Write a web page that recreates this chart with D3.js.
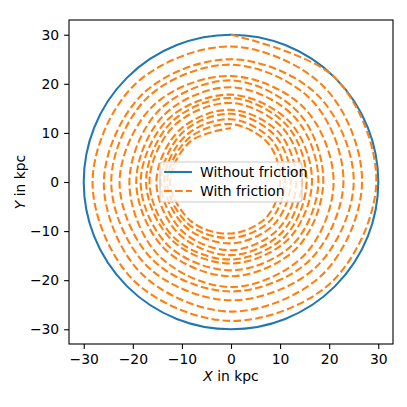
<!DOCTYPE html>
<html>
<head>
<meta charset="utf-8">
<script src="https://cdn.jsdelivr.net/npm/d3@7"></script>
<style>
  body { margin: 0; background: #fff; }
  text { font-family: "DejaVu Sans", sans-serif; }
</style>
</head>
<body>
<div id="my_dataviz"></div>
<script>
// orbit without friction: constant radius (kpc)
var circleRadius = 30;

// octant angles, degrees clockwise from +Y (start of each turn at top)
var octantAngles = [0, 45, 90, 135, 180, 225, 270, 315];

// orbit with friction: radius (kpc) at each octant, one row per turn
var frictionRadii = [
    [30.0, 30.0, 29.6, 28.9, 28.3, 28.2, 28.2, 27.9],
    [27.6, 27.1, 26.7, 26.5, 26.4, 26.1, 25.9, 25.4],
    [25.0, 25.0, 25.0, 24.5, 24.1, 24.2, 24.4, 24.2],
    [23.9, 23.4, 22.9, 22.6, 22.3, 22.5, 22.7, 22.2],
    [21.6, 21.2, 20.9, 21.1, 21.4, 21.0, 20.7, 20.7],
    [20.7, 19.7, 18.8, 19.0, 19.2, 19.2, 19.3, 19.3],
    [19.3, 18.5, 17.8, 17.9, 18.0, 18.2, 18.4, 18.1],
    [17.8, 17.1, 16.5, 16.5, 16.6, 16.9, 17.3, 17.2],
    [17.1, 16.2, 15.4, 15.6, 15.8, 16.2, 16.6, 16.3],
    [16.1, 15.2, 14.4, 14.6, 14.9, 15.0, 15.2, 14.9],
    [14.7, 14.0, 13.3, 13.6, 13.9, 14.1, 14.3, 14.1],
    [13.9, 13.0, 12.2, 12.3, 12.5, 13.0, 13.6, 13.2],
    [12.8, 11.9, 11.0, 11.2, 11.4, 12.2, 13.0, 12.4],
    [11.8, 10.9, 10.0, 10.2, 10.5, 11.4, 12.4, 11.7]
];
var finalRadius = 11.0;

var ticks = [-30, -20, -10, 0, 10, 20, 30];
var legendLabels = ["Without friction", "With friction"];

// set the dimensions and margins of the graph
var margin = { top: 20, right: 14, bottom: 63, left: 69 },
    width = 407 - margin.left - margin.right,
    height = 407 - margin.top - margin.bottom;

var svg = d3.select("#my_dataviz")
    .append("svg")
    .attr("width", 407)
    .attr("height", 407)
    .append("g")
    .attr("transform", "translate(" + margin.left + "," + margin.top + ")");

var x = d3.scaleLinear().domain([-33, 33]).range([0, width]);
var y = d3.scaleLinear().domain([-33, 33]).range([height, 0]);

var blue = "#1f77b4", orange = "#ff7f0e";

// flatten the orbit into (angle, radius) points
var orbit = [];
frictionRadii.forEach(function (row, turn) {
    row.forEach(function (r, j) {
        orbit.push({ a: turn * 360 + octantAngles[j], r: r });
    });
});
orbit.push({ a: frictionRadii.length * 360, r: finalRadius });

var plot = svg.append("g")
    .attr("transform", "translate(" + x(0) + "," + y(0) + ")");

plot.append("circle")
    .attr("r", x(circleRadius) - x(0))
    .attr("fill", "none")
    .attr("stroke", blue)
    .attr("stroke-width", 2.08);

var radial = d3.lineRadial()
    .angle(function (d) { return d.a * Math.PI / 180; })
    .radius(function (d) { return x(d.r) - x(0); })
    .curve(d3.curveCatmullRom);

plot.append("path")
    .datum(orbit)
    .attr("d", radial)
    .attr("fill", "none")
    .attr("stroke", orange)
    .attr("stroke-width", 2.08)
    .attr("stroke-dasharray", "7.7,3.3");

// axes
var xAxis = svg.append("g")
    .attr("transform", "translate(0," + height + ")")
    .call(d3.axisBottom(x).tickValues(ticks).tickSizeOuter(0).tickSize(4.9).tickPadding(4.9));
var yAxis = svg.append("g")
    .call(d3.axisLeft(y).tickValues(ticks).tickSizeOuter(0).tickSize(4.9).tickPadding(4.9));

[xAxis, yAxis].forEach(function (a) {
    a.select(".domain").remove();
    a.selectAll("line").attr("stroke", "#000").attr("stroke-width", 1.1);
    a.selectAll("text").attr("font-size", "13.9px").attr("fill", "#000")
        .attr("font-family", "DejaVu Sans");
});

svg.append("rect")
    .attr("width", width)
    .attr("height", height)
    .attr("fill", "none")
    .attr("stroke", "#000")
    .attr("stroke-width", 1.1);

// axis labels
var xl = svg.append("text")
    .attr("x", width / 2)
    .attr("y", height + 37)
    .attr("text-anchor", "middle")
    .attr("font-size", "13.9px");
xl.append("tspan").attr("font-style", "italic").text("X");
xl.append("tspan").text(" in kpc");

var yl = svg.append("text")
    .attr("transform", "translate(" + (-44) + "," + (height / 2) + ") rotate(-90)")
    .attr("text-anchor", "middle")
    .attr("font-size", "13.9px");
yl.append("tspan").attr("font-style", "italic").text("Y");
yl.append("tspan").text(" in kpc");

// legend
var lg = svg.append("g")
    .attr("transform", "translate(" + (x(0) - 71) + "," + (y(0) - 20) + ")");
lg.append("rect")
    .attr("width", 142)
    .attr("height", 40)
    .attr("rx", 3)
    .attr("fill", "#fff")
    .attr("fill-opacity", 0.8)
    .attr("stroke", "#cccccc")
    .attr("stroke-width", 1.1);

legendLabels.forEach(function (label, i) {
    var yy = 10 + i * 19;
    lg.append("line")
        .attr("x1", 4).attr("x2", 32)
        .attr("y1", yy).attr("y2", yy)
        .attr("stroke", i === 0 ? blue : orange)
        .attr("stroke-width", 2.08)
        .attr("stroke-dasharray", i === 0 ? null : "7.7,3.3");
    lg.append("text")
        .attr("x", 40)
        .attr("y", yy)
        .attr("dy", "0.35em")
        .attr("font-size", "13.9px")
        .text(label);
});
</script>
</body>
</html>
